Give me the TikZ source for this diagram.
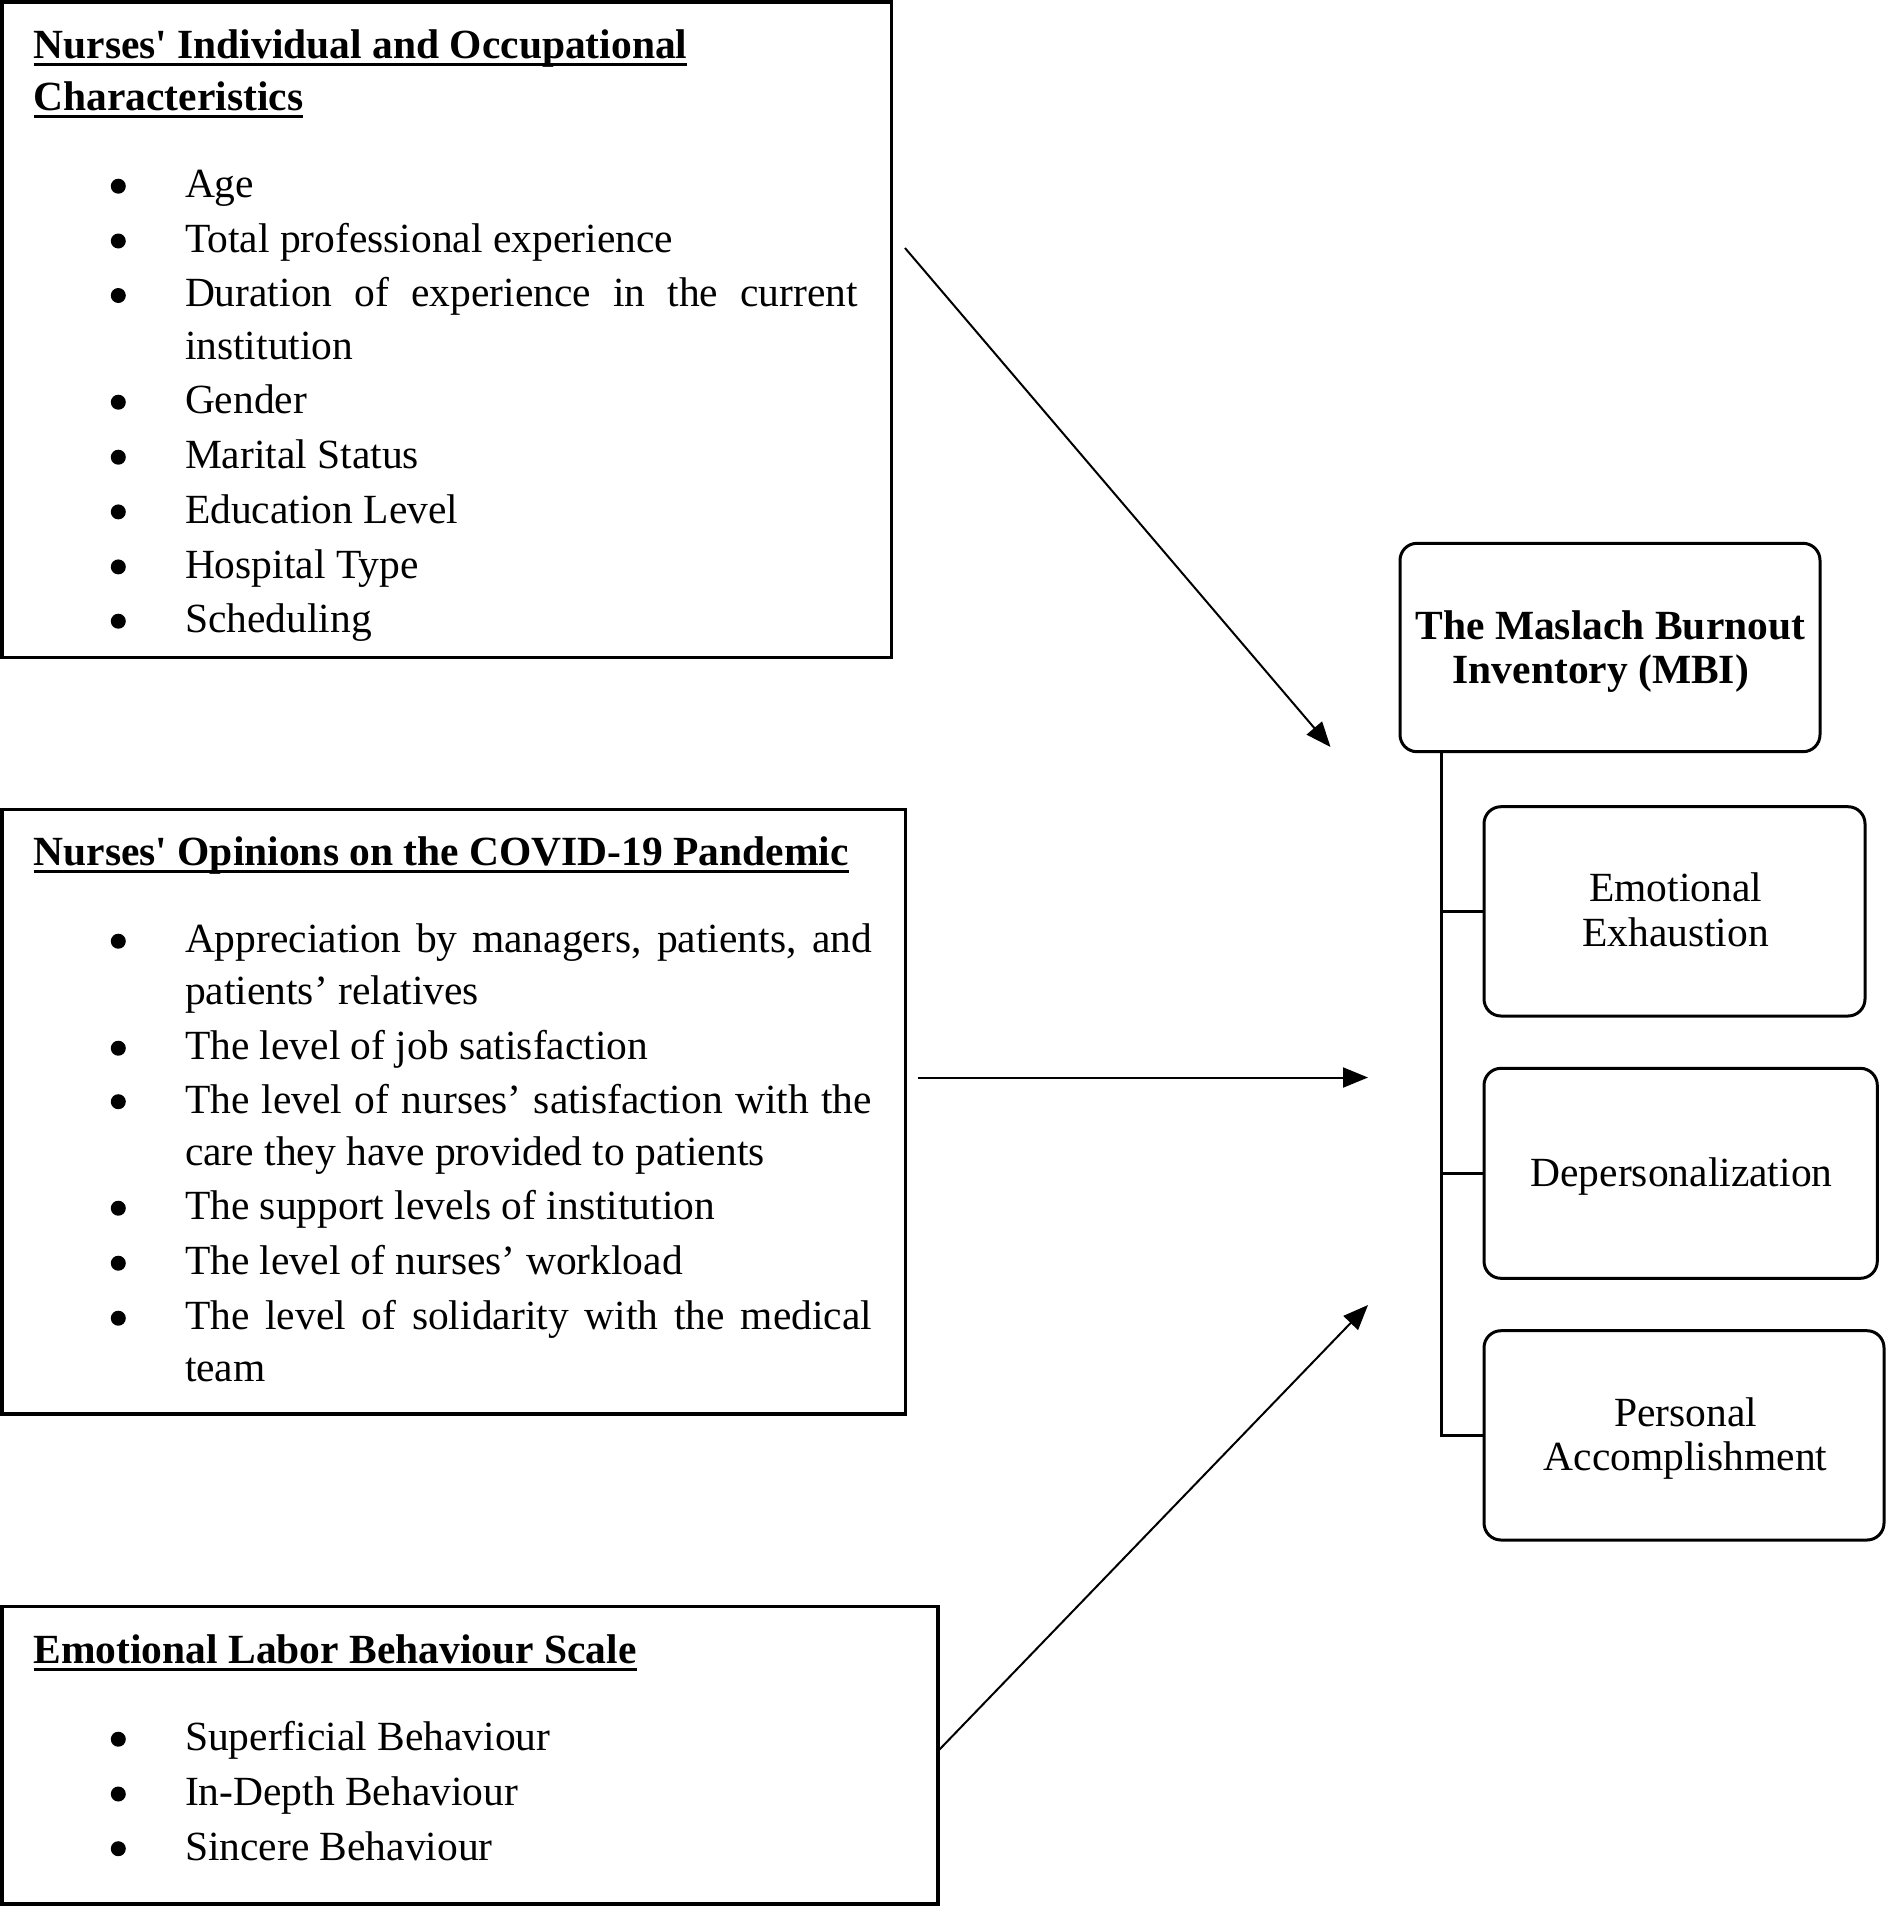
\documentclass[tikz,border=0pt]{standalone}
\usepackage{fontspec}
\setmainfont{Liberation Serif}
\usetikzlibrary{arrows.meta}
\newlength\ulw
\newcommand\myul[1]{\settowidth{\ulw}{#1}\rlap{\rule[-7.5pt]{\ulw}{3pt}}#1}
\newcommand\just[2]{\makebox[#1][s]{#2}}
\begin{document}
\begin{tikzpicture}[x=1pt,y=-1pt,
  every node/.style={inner sep=0pt, outer sep=0pt},
  font=\fontsize{41.5}{44}\selectfont,
  sqbox/.style={draw, line width=3.5pt, anchor=north west},
  rbox/.style={draw, line width=3pt, rounded corners=17pt, anchor=north west},
  ttl/.style={anchor=base west, font=\fontsize{41.5}{44}\selectfont\bfseries},
  itm/.style={anchor=base west},
  ctr/.style={anchor=base},
  ctrb/.style={anchor=base, font=\fontsize{41.5}{44}\selectfont\bfseries},
  tree/.style={line width=3.3pt},
  arr/.style={line width=2pt, -{Triangle[length=25pt,width=20pt]}},
  bul/.style={fill=black}
]
\useasboundingbox (0,0) rectangle (1887,1907);

% ---------- left boxes ----------
\node[sqbox, minimum width=889.5pt, minimum height=655.5pt] (b1) at (2,2) {};
\node[sqbox, minimum width=903.5pt, minimum height=604.3pt] (b2) at (2,809.7) {};
\node[sqbox, minimum width=936pt, minimum height=297.5pt] (b3) at (2,1606.5) {};

% box 1 text
\node[ttl] (t1a) at (33.6,58.3) {\myul{Nurses\textquotesingle{} Individual and Occupational}};
\node[ttl] (t1b) at (33.6,110) {\myul{Characteristics}};
\node[itm] (i11) at (185,197.5) {Age};
\node[itm] (i12) at (185,252.3) {Total professional experience};
\node[itm] (i13) at (185,306.8) {\just{673pt}{Duration of experience in the current}};
\node[itm] (i13b) at (185,359.5) {institution};
\node[itm] (i14) at (185,413.5) {Gender};
\node[itm] (i15) at (185,468.5) {Marital Status};
\node[itm] (i16) at (185,523.2) {Education Level};
\node[itm] (i17) at (185,578.2) {Hospital Type};
\node[itm] (i18) at (185,632.5) {Scheduling};
\foreach \yy in {197.5,252.3,306.8,413.5,468.5,523.2,578.2,632.5}
  \fill[bul] (118.3,\yy-11.3) circle (7.5pt);

% box 2 text
\node[ttl] (t2) at (33.6,865.5) {\myul{Nurses\textquotesingle{} Opinions on the COVID-19 Pandemic}};
\node[itm] (i21) at (185,952.5) {\just{687pt}{Appreciation by managers, patients, and}};
\node[itm] (i21b) at (185,1004) {patients’ relatives};
\node[itm] (i22) at (185,1059.5) {The level of job satisfaction};
\node[itm] (i23) at (185,1113) {\just{687pt}{The level of nurses’ satisfaction with the}};
\node[itm] (i23b) at (185,1165) {care they have provided to patients};
\node[itm] (i24) at (185,1219.5) {The support levels of institution};
\node[itm] (i25) at (185,1274.5) {The level of nurses’ workload};
\node[itm] (i26) at (185,1329.5) {\just{687pt}{The level of solidarity with the medical}};
\node[itm] (i26b) at (185,1381) {team};
\foreach \yy in {952.5,1059.5,1113,1219.5,1274.5,1329.5}
  \fill[bul] (118.3,\yy-11.3) circle (7.5pt);

% box 3 text
\node[ttl] (t3) at (33.6,1663) {\myul{Emotional Labor Behaviour Scale}};
\node[itm] (i31) at (185,1750.5) {Superficial Behaviour};
\node[itm] (i32) at (185,1805.3) {In-Depth Behaviour};
\node[itm] (i33) at (185,1860) {Sincere Behaviour};
\foreach \yy in {1750.5,1805.3,1860}
  \fill[bul] (118.3,\yy-11.3) circle (7.5pt);

% ---------- right boxes ----------
\node[rbox, minimum width=420pt, minimum height=208.4pt] (mbi) at (1400,543.3) {};
\node[rbox, minimum width=381pt, minimum height=209.3pt] (ee) at (1484,806.7) {};
\node[rbox, minimum width=393.3pt, minimum height=210pt] (dep) at (1484,1068.3) {};
\node[rbox, minimum width=400pt, minimum height=209.3pt] (pa) at (1484,1330.7) {};

\node[ctrb] (mbi1) at (1610.3,639.3) {The Maslach Burnout};
\node[ctrb, anchor=base west] (mbi2) at (1452.7,683.3) {Inventory (MBI)};
\node[ctr] (ee1) at (1675.5,901.7) {Emotional};
\node[ctr] (ee2) at (1675.5,946) {Exhaustion};
\node[ctr] (dep1) at (1681.5,1186) {Depersonalization};
\node[ctr] (pa1) at (1685.5,1426.7) {Personal};
\node[ctr] (pa2) at (1685.5,1470.7) {Accomplishment};

% tree connectors
\coordinate (tt) at ([xshift=41.7pt]mbi.south west);
\draw[tree] (tt) |- (pa.west);
\draw[tree] (tt |- ee.west) -- (ee.west);
\draw[tree] (tt |- dep.west) -- (dep.west);

% arrows
\coordinate (a1s) at (905,248);
\coordinate (a1e) at (1330.5,747);
\coordinate (a2s) at (918,1077.5);
\coordinate (a2e) at (1368,1077.5);
\coordinate (a3s) at (938.5,1750.5);
\coordinate (a3e) at (1368,1305);
\draw[arr] (a1s) -- (a1e);
\draw[arr] (a2s) -- (a2e);
\draw[arr] (a3s) -- (a3e);
\end{tikzpicture}
\end{document}
